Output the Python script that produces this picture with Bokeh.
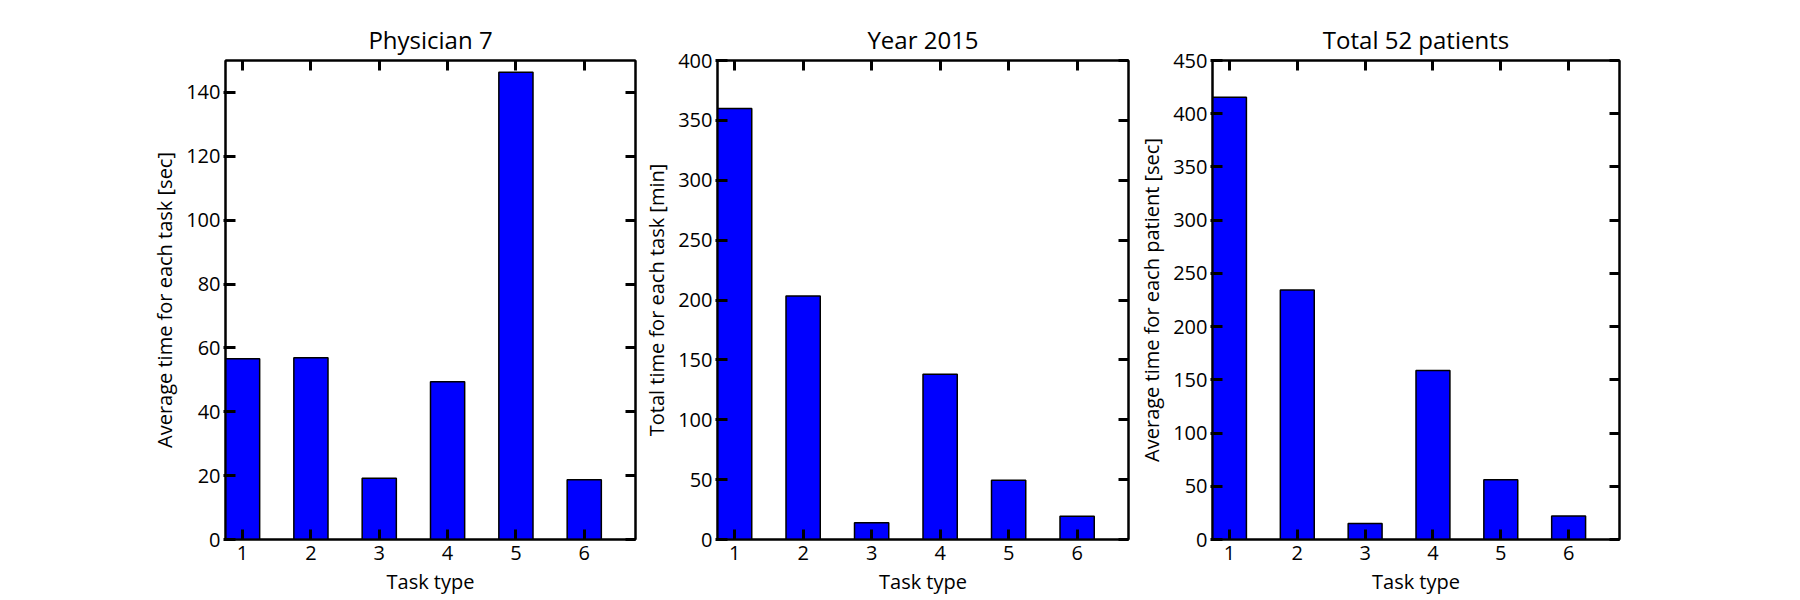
from bokeh.plotting import figure
from bokeh.layouts import row
from bokeh.models import LinearAxis, FixedTicker, Range1d, ColumnDataSource
from bokeh.embed import file_html
from bokeh.resources import INLINE

# ---- data ----
tasks = [1, 2, 3, 4, 5, 6]
tick_labels = ["1", "2", "3", "4", "5", "6"]
physician_avg = [56.6, 56.9, 19.2, 49.4, 146.3, 18.7]
year_total = [360.0, 203.3, 13.9, 138.0, 49.4, 19.4]
patient_avg = [415.5, 234.4, 15.0, 158.7, 56.2, 22.0]

titles = ["Physician 7", "Year 2015", "Total 52 patients"]
ylabels = ["Average time for each task [sec]",
           "Total time for each task [min]",
           "Average time for each patient [sec]"]
xlabel = "Task type"
y_max = [150, 400, 450]
y_ticks = [[0, 20, 40, 60, 80, 100, 120, 140],
           [0, 50, 100, 150, 200, 250, 300, 350, 400],
           [0, 50, 100, 150, 200, 250, 300, 350, 400, 450]]

FONT = "Open Sans"


def style_axis(ax, tick_in, tick_out, show_labels):
    ax.axis_line_color = "black"
    ax.axis_line_width = 2
    ax.major_tick_line_color = "black"
    ax.major_tick_line_width = 3
    ax.major_tick_in = tick_in
    ax.major_tick_out = tick_out
    ax.minor_tick_line_color = None
    ax.major_label_text_font = FONT
    ax.axis_label_text_font = FONT
    ax.axis_label_text_font_style = "normal"
    ax.axis_label_text_color = "black"
    ax.axis_label_text_font_size = "20px"
    if show_labels:
        ax.major_label_text_font_size = "20px"
        ax.major_label_text_color = "black"
    else:
        # tick marks only: labels are not painted at all
        ax.major_label_text_font_size = "1px"
        ax.major_label_text_color = None
        ax.major_label_standoff = 0


def make_panel(values, title, ylabel, ymax, yticks, width, bl, br):
    p = figure(width=width, height=600,
               x_range=Range1d(0.75, 6.75), y_range=Range1d(0, ymax),
               output_backend="svg", toolbar_location=None,
               min_border_left=bl, min_border_right=br,
               min_border_top=60, min_border_bottom=61,
               title=title)
    p.title.text_font = FONT
    p.title.text_font_size = "24px"
    p.title.text_font_style = "normal"
    p.title.text_color = "black"
    p.title.align = "center"
    p.xgrid.visible = False
    p.ygrid.visible = False
    p.outline_line_color = "black"
    p.outline_line_width = 2
    p.background_fill_color = "white"

    src = ColumnDataSource(dict(x=tasks, top=values))
    p.vbar(x="x", top="top", width=0.5, source=src,
           fill_color="#0000ff", line_color="black", line_width=1.5)

    overrides = {t: l for t, l in zip(tasks, tick_labels)}

    xa = p.xaxis[0]
    xa.ticker = FixedTicker(ticks=tasks)
    xa.major_label_overrides = overrides
    xa.axis_label = xlabel
    xa.major_label_standoff = 6
    style_axis(xa, 10, 0, True)

    ya = p.yaxis[0]
    ya.ticker = FixedTicker(ticks=yticks)
    ya.axis_label = ylabel
    ya.major_label_standoff = 3
    style_axis(ya, 10, 2, True)

    top = LinearAxis(ticker=FixedTicker(ticks=tasks))
    style_axis(top, 10, 0, False)
    p.add_layout(top, "above")

    right = LinearAxis(ticker=FixedTicker(ticks=yticks))
    style_axis(right, 10, 0, False)
    p.add_layout(right, "right")
    return p


p1 = make_panel(physician_avg, titles[0], ylabels[0], y_max[0], y_ticks[0], 640, 225, 5)
p2 = make_panel(year_total, titles[1], ylabels[1], y_max[1], y_ticks[1], 495, 77, 7)
p3 = make_panel(patient_avg, titles[2], ylabels[2], y_max[2], y_ticks[2], 665, 75, 181)

layout = row(p1, p2, p3)
open("out.html", "w").write(file_html(layout, INLINE))
